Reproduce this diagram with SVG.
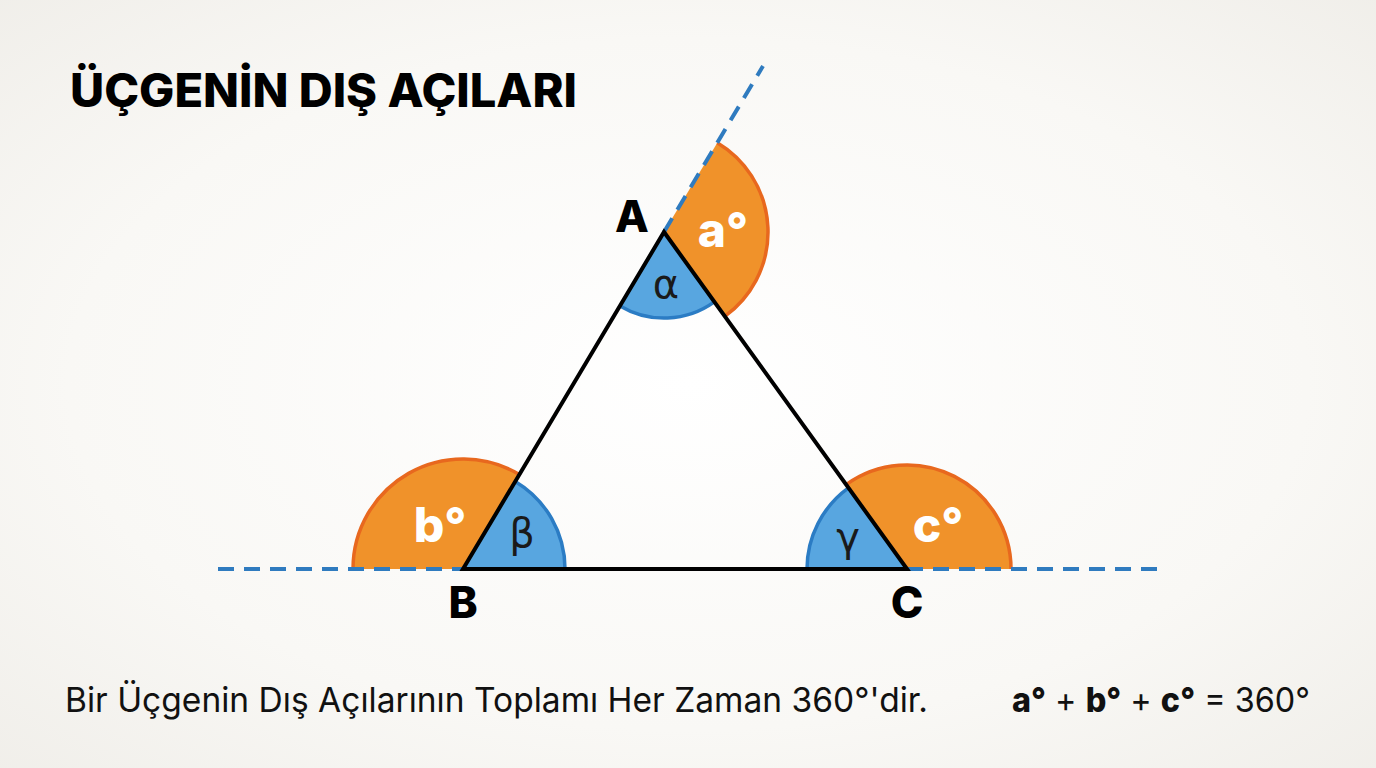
<svg xmlns="http://www.w3.org/2000/svg" width="1376" height="768" viewBox="0 0 1376 768">
<defs>
<radialGradient id="bg" cx="0.5" cy="0.5" r="0.75">
<stop offset="0" stop-color="#ffffff"/>
<stop offset="0.6" stop-color="#f9f8f5"/>
<stop offset="1" stop-color="#efede8"/>
</radialGradient>
<style>
.ext{fill:#f0922a;stroke:none}
.extArc{fill:none;stroke:#e8681e;stroke-width:3.5}
.int{fill:#58a6e0;stroke:none}
.intArc{fill:none;stroke:#2b7cc4;stroke-width:3.5}
.dash{fill:none;stroke:#2f7bbf;stroke-width:4;stroke-dasharray:16 10}
.side{fill:none;stroke:#000;stroke-width:4;stroke-linejoin:miter;stroke-linecap:round}
.vlab{font-family:Inter,"Open Sans","Liberation Sans",sans-serif;font-weight:800;font-size:44px;fill:#000;text-anchor:middle}
.greek{font-family:"DejaVu Sans","Liberation Sans",sans-serif;font-size:40px;fill:#1a1a1a;text-anchor:middle}
.deg{font-family:Inter,"Open Sans","Liberation Sans",sans-serif;font-weight:800;font-size:48px;fill:#fff;text-anchor:middle}
.title{font-family:Inter,"Open Sans","Liberation Sans",sans-serif;font-weight:800;font-size:46px;fill:#000}
.note{font-family:Inter,"Liberation Sans",sans-serif;font-size:34px;fill:#111}
</style>
</defs>
<rect width="1376" height="768" fill="url(#bg)"/>
<text class="title" x="70" y="107" textLength="507" lengthAdjust="spacingAndGlyphs">ÜÇGENİN DIŞ AÇILARI</text>

<g id="angle-B">
<path class="ext" d="M463,569 L519.3,474.5 A110,110 0 0 0 353,569 Z"/>
<path class="extArc" d="M519.3,474.5 A110,110 0 0 0 353,569"/>
<path class="int" d="M463,569 L565,569 A102,102 0 0 0 515.2,481.4 Z"/>
<path class="intArc" d="M565,569 A102,102 0 0 0 515.2,481.4"/>
</g>
<g id="angle-C">
<path class="ext" d="M907,569 L846.2,484.6 A104,104 0 0 1 1011,569 Z"/>
<path class="extArc" d="M846.2,484.6 A104,104 0 0 1 1011,569"/>
<path class="int" d="M907,569 L807,569 A100,100 0 0 1 848.5,487.9 Z"/>
<path class="intArc" d="M807,569 A100,100 0 0 1 848.5,487.9"/>
</g>
<g id="angle-A">
<path class="ext" d="M664,232 L717.3,142.7 A104,104 0 0 1 724.8,316.4 Z"/>
<path class="extArc" d="M717.3,142.7 A104,104 0 0 1 724.8,316.4"/>
<path class="int" d="M664,232 L620,305.9 A86,86 0 0 0 714.3,301.8 Z"/>
<path class="intArc" d="M620,305.9 A86,86 0 0 0 714.3,301.8"/>
</g>

<g id="connectors">
<line class="dash" x1="218" y1="569" x2="463" y2="569"/>
<line class="dash" x1="907" y1="569" x2="1158" y2="569"/>
<line class="dash" x1="664" y1="232" x2="763" y2="66"/>
<path class="side" d="M463,569 L664,232 L907,569 Z"/>
</g>

<g id="labels">
<text class="vlab" x="632" y="232">A</text>
<text class="vlab" x="463" y="618">B</text>
<text class="vlab" x="907" y="618">C</text>
<text class="greek" x="666" y="298">α</text>
<text class="greek" x="522" y="547">β</text>
<text class="greek" x="848" y="551">γ</text>
<text class="deg" x="723" y="247">a°</text>
<text class="deg" x="440" y="542">b°</text>
<text class="deg" x="938" y="542">c°</text>
</g>

<text class="note" x="65" y="712" textLength="863" lengthAdjust="spacingAndGlyphs">Bir Üçgenin Dış Açılarının Toplamı Her Zaman 360°'dir.</text>
<text class="note" x="1012" y="712" textLength="298" lengthAdjust="spacingAndGlyphs"><tspan font-weight="800">a°</tspan> + <tspan font-weight="800">b°</tspan> + <tspan font-weight="800">c°</tspan> = 360°</text>
</svg>
